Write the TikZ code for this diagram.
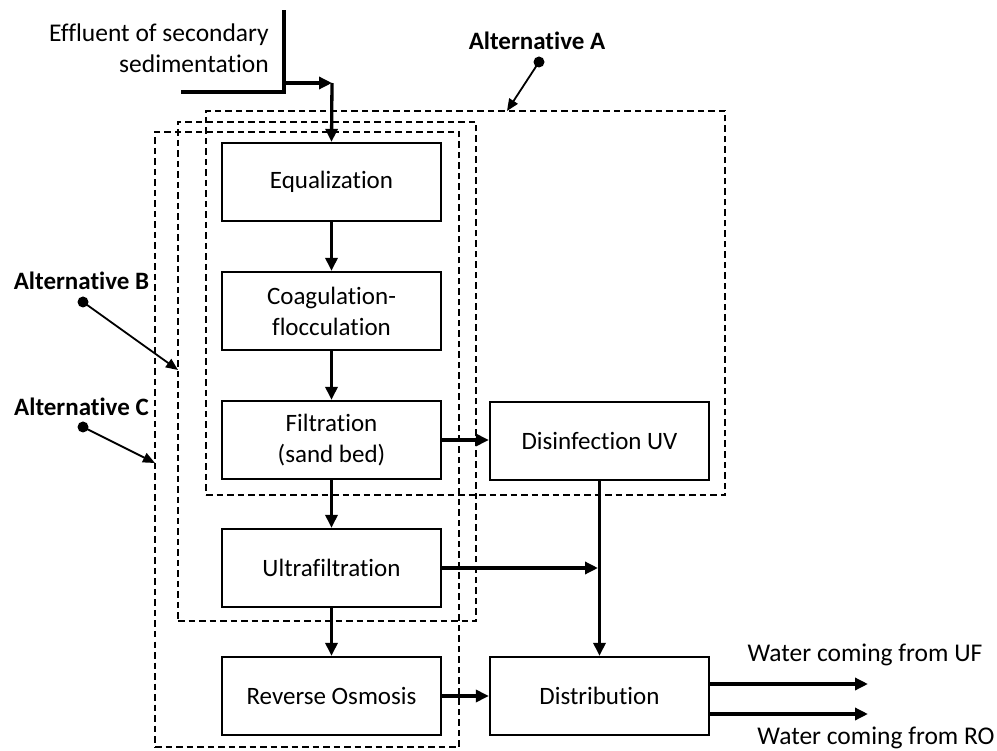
\documentclass[tikz,border=0pt]{standalone}
\usepackage{fontspec}
\setmainfont[Ligatures=NoCommon]{Carlito}
\usetikzlibrary{arrows.meta}
\begin{document}
\begin{tikzpicture}[x=1pt,y=-1pt,
  proc/.style={draw,line width=2.3pt,minimum width=219pt,minimum height=78pt,inner sep=0pt,align=center,font=\fontsize{25}{31}\selectfont},
  flow/.style={line width=3.3pt,-{Triangle[length=13pt,width=12pt]}},
  plain/.style={line width=3.3pt},
  dashbox/.style={draw,line width=1.5pt,dash pattern=on 6.5pt off 4pt,inner sep=0pt},
  pointer/.style={line width=1.8pt,-{Triangle[length=12pt,width=10pt]}},
  lbl/.style={font=\fontsize{25.5}{31}\selectfont,inner sep=0pt},
  blbl/.style={font=\bfseries\fontsize{25}{31}\selectfont,inner sep=0pt}]
\useasboundingbox (0,0) rectangle (997,751);
% dashed alternative boxes
\node[dashbox,minimum width=519pt,minimum height=384pt] (altA) at (465.5,303) {};
\node[dashbox,minimum width=298pt,minimum height=499pt] (altB) at (327,371.5) {};
\node[dashbox,minimum width=304pt,minimum height=615pt] (altC) at (307,439.5) {};
% process boxes
\node[proc] (eq) at (331.5,182) {Equalization};
\node[proc] (coag) at (331.5,311) {Coagulation-\\flocculation};
\node[proc] (filt) at (331.5,440) {Filtration\\(sand bed)};
\node[proc] (uf) at (331.5,568) {Ultrafiltration};
\node[proc] (ro) at (331.5,696) {Reverse Osmosis};
\node[proc] (uv) at (599.5,441) {Disinfection UV};
\node[proc] (dist) at (599.5,696) {Distribution};
% input
\node[lbl,align=right,anchor=east] (eff) at (269,48) {Effluent of secondary\\sedimentation};
\coordinate (in0) at (181,92);
\coordinate (in1) at (284,92);
\coordinate (in2) at (284,10);
\coordinate (in3) at (284,83);
\coordinate (in4) at (332,83);
\draw[plain] (in0) -- (in1) -- (in2);
\draw[flow] (in3) -- (in4);
\draw[flow] (in4) -- (eq.north);
% main flow
\draw[flow] (eq) -- (coag);
\draw[flow] (coag) -- (filt);
\draw[flow] (filt) -- (uf);
\draw[flow] (uf) -- (ro);
\draw[flow] (filt.east) -- (uv.west |- filt.east);
\draw[flow] (uv) -- (dist);
\draw[flow,shorten >=1.5pt] (uf.east) -- (uf.east -| uv.south);
\draw[flow] (ro) -- (dist);
\coordinate (o1) at (868,684);
\coordinate (o2) at (868,714);
\draw[flow] (dist.east |- o1) -- (o1);
\draw[flow] (dist.east |- o2) -- (o2);
\node[lbl] (wuf) at (865,655) {Water coming from UF};
\node[lbl] (wro) at (876,738) {Water coming from RO};
% alternative labels
\node[blbl] (labA) at (537,41) {Alternative A};
\node[blbl] (labB) at (81.5,281) {Alternative B};
\node[blbl] (labC) at (81.5,407) {Alternative C};
\coordinate (dA) at (539,62);
\coordinate (dB) at (83,302);
\coordinate (dC) at (83,427);
\coordinate (tA) at (507,111);
\coordinate (tB) at (178,370);
\coordinate (tC) at (155,463);
\fill (dA) circle (5.5pt);
\fill (dB) circle (5.5pt);
\fill (dC) circle (5.5pt);
\draw[pointer] (dA) -- (tA);
\draw[pointer] (dB) -- (tB);
\draw[pointer] (dC) -- (tC);
\end{tikzpicture}
\end{document}
